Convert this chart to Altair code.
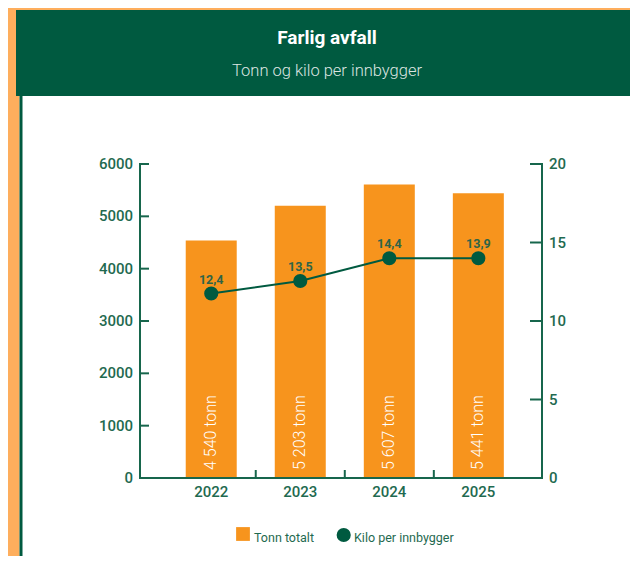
import altair as alt
import pandas as pd

# ---- data ----
years = [2022, 2023, 2024, 2025]
tonn = [4540, 5203, 5607, 5441]
tonn_labels = ["4 540 tonn", "5 203 tonn", "5 607 tonn", "5 441 tonn"]
kilo = [11.75, 12.55, 14.0, 14.0]
kilo_labels = ["12,4", "13,5", "14,4", "13,9"]
left_ticks = [0, 1000, 2000, 3000, 4000, 5000, 6000]
right_ticks = [0, 5, 10, 15, 20]
x_boundaries = [2022.5, 2023.5, 2024.5]
title_text = "Farlig avfall"
subtitle_text = "Tonn og kilo per innbygger"
legend_labels = ["Tonn totalt", "Kilo per innbygger"]

ORANGE = "#F7941D"
GREEN = "#005A40"
AXIS = "#17664C"
LABEL = "#1F6A50"
STRIP = "#FEAE5D"
FONT = "Roboto"
W, H = 402, 314
PAD_L, PAD_T, PAD_R, PAD_B = 132, 156, 88, 78
RIGHT_EDGE = W + PAD_R          # right edge of the canvas, relative to plot origin
BOTTOM_EDGE = H + PAD_B

df = pd.DataFrame({"year": years, "tonn": tonn, "tonn_label": tonn_labels,
                   "kilo": kilo, "kilo_label": kilo_labels})
one = pd.DataFrame({"k": [0]})
df_lt = pd.DataFrame({"v": left_ticks, "lab": [str(v) for v in left_ticks]})
df_rt = pd.DataFrame({"v": right_ticks, "lab": [str(v) for v in right_ticks]})
df_yr = pd.DataFrame({"year": years, "lab": [str(v) for v in years]})
df_b = pd.DataFrame({"b": x_boundaries})

xscale = alt.Scale(domain=[2021.2, 2025.715], nice=False, zero=False, padding=0)
lscale = alt.Scale(domain=[0, 6000], nice=False, zero=True)
rscale = alt.Scale(domain=[0, 20], nice=False, zero=True)

x_main = alt.X("year:Q", scale=xscale,
               axis=alt.Axis(values=years, format="d", ticks=False, domainColor=AXIS,
                             domainWidth=2, labelColor=LABEL, labelFontSize=15,
                             labelFontWeight=500, labelPadding=7, grid=False, title=None,
                             labelFont=FONT, labelFlush=False, zindex=1))
x_plain = alt.X("year:Q", scale=xscale, axis=None)

# ---- decoration (frame, header, legend, axis lines) ----
def rect(x, x2, y, y2, color):
    return alt.Chart(one).mark_rect(color=color).encode(
        x=alt.value(x), x2=alt.value(x2), y=alt.value(y), y2=alt.value(y2))

strip = rect(-PAD_L, -120.5, -PAD_T, BOTTOM_EDGE, STRIP)
strip_top = rect(-PAD_L, RIGHT_EDGE, -PAD_T, -PAD_T + 2, STRIP)
header = rect(-124, RIGHT_EDGE, -PAD_T + 2, -68, GREEN)
edge = rect(-120.5, -117.5, -68, BOTTOM_EDGE, GREEN)
dom_left = rect(-1, 1, -1, H + 1, AXIS)
dom_right = rect(W - 1, W + 1, -1, H + 1, AXIS)
dom_bottom = rect(-1, W + 1, H - 1, H + 1, AXIS)

title = alt.Chart(one).mark_text(text=title_text, font=FONT, fontSize=19, fontWeight="bold",
                                 color="#FFFFFF", align="center").encode(
    x=alt.value(187), y=alt.value(-126.5))
subtitle = alt.Chart(one).mark_text(text=subtitle_text, font=FONT, fontSize=16.5, fontWeight=300,
                                    color="#DCE5E0", align="center").encode(
    x=alt.value(187), y=alt.value(-93))

leg_sq = alt.Chart(one).mark_square(size=190, color=ORANGE, opacity=1).encode(
    x=alt.value(103), y=alt.value(370))
leg_t1 = alt.Chart(one).mark_text(text=legend_labels[0], font=FONT, fontSize=12.5, color=LABEL,
                                  align="left").encode(x=alt.value(114), y=alt.value(374))
leg_ci = alt.Chart(one).mark_circle(size=200, color=GREEN, opacity=1).encode(
    x=alt.value(203.7), y=alt.value(371))
leg_t2 = alt.Chart(one).mark_text(text=legend_labels[1], font=FONT, fontSize=12.5, color=LABEL,
                                  align="left").encode(x=alt.value(214), y=alt.value(374))

# ---- left (tonn) layer ----
bars = alt.Chart(df).mark_bar(color=ORANGE, size=51).encode(
    x=x_main,
    y=alt.Y("tonn:Q", scale=lscale,
            axis=alt.Axis(values=left_ticks, ticks=False, domainColor=AXIS, domainWidth=2,
                          labelColor=LABEL, labelFontSize=15, labelFontWeight=500,
                          labelPadding=7, grid=False, title=None, labelFont=FONT, zindex=1)))
bar_text = alt.Chart(df).mark_text(font=FONT, fontSize=16, fontWeight=300, color="#FFFFFF",
                                   angle=270, align="left", baseline="middle",
                                   yOffset=-8).encode(
    x=x_plain, y=alt.datum(0, scale=lscale), text="tonn_label:N")
lticks = alt.Chart(df_lt).mark_rule(color=AXIS, strokeWidth=2).encode(
    y=alt.Y("v:Q", scale=lscale, axis=None), x=alt.value(0), x2=alt.value(9))
llabels = alt.Chart(df_lt).mark_text(font=FONT, fontSize=15, fontWeight=500, color=LABEL,
                                     align="right", baseline="middle").encode(
    y=alt.Y("v:Q", scale=lscale, axis=None), x=alt.value(-7), text="lab:N")
bticks = alt.Chart(df_b).mark_rule(color=AXIS, strokeWidth=2).encode(
    x=alt.X("b:Q", scale=xscale, axis=None), y=alt.value(H - 8), y2=alt.value(H))
xlabels = alt.Chart(df_yr).mark_text(font=FONT, fontSize=15, fontWeight=500, color=LABEL,
                                     align="center", baseline="top").encode(
    x=x_plain, y=alt.value(H + 7), text="lab:N")

left_layer = alt.layer(bars, bar_text, lticks, llabels, bticks, xlabels)

# ---- right (kilo) layer ----
yR = alt.Y("kilo:Q", scale=rscale,
           axis=alt.Axis(orient="right", values=right_ticks, ticks=False, domainColor=AXIS,
                         domainWidth=2, labelColor=LABEL, labelFontSize=15, labelFontWeight=500,
                         labelPadding=7, grid=False, title=None, labelFont=FONT, zindex=1))
line = alt.Chart(df).mark_line(color=GREEN, strokeWidth=2).encode(x=x_plain, y=yR)
pts = alt.Chart(df).mark_circle(size=200, color=GREEN, opacity=1).encode(
    x=x_plain, y=alt.Y("kilo:Q", scale=rscale, axis=None))
pt_text = alt.Chart(df).mark_text(font=FONT, fontSize=12.5, fontWeight="bold", color="#2E6448",
                                  dy=-14).encode(
    x=x_plain, y=alt.Y("kilo:Q", scale=rscale, axis=None), text="kilo_label:N")
rticks = alt.Chart(df_rt).mark_rule(color=AXIS, strokeWidth=2).encode(
    y=alt.Y("v:Q", scale=rscale, axis=None), x=alt.value(W - 12), x2=alt.value(W))
rlabels = alt.Chart(df_rt).mark_text(font=FONT, fontSize=15, fontWeight=500, color=LABEL,
                                     align="left", baseline="middle").encode(
    y=alt.Y("v:Q", scale=rscale, axis=None), x=alt.value(W + 7), text="lab:N")

right_layer = alt.layer(line, pts, pt_text, rticks, rlabels)

chart = alt.layer(
    strip, strip_top, header, edge, title, subtitle, leg_sq, leg_t1, leg_ci, leg_t2,
    left_layer, right_layer, dom_left, dom_right, dom_bottom
).resolve_scale(y="independent").properties(
    width=W, height=H,
    padding={"left": PAD_L, "top": PAD_T, "right": PAD_R, "bottom": PAD_B},
    autosize=alt.AutoSizeParams(type="none"),
    background="#FFFFFF",
).configure(font=FONT).configure_view(stroke=None)

chart.save("out.html", embed_options={"renderer": "svg", "actions": False})
